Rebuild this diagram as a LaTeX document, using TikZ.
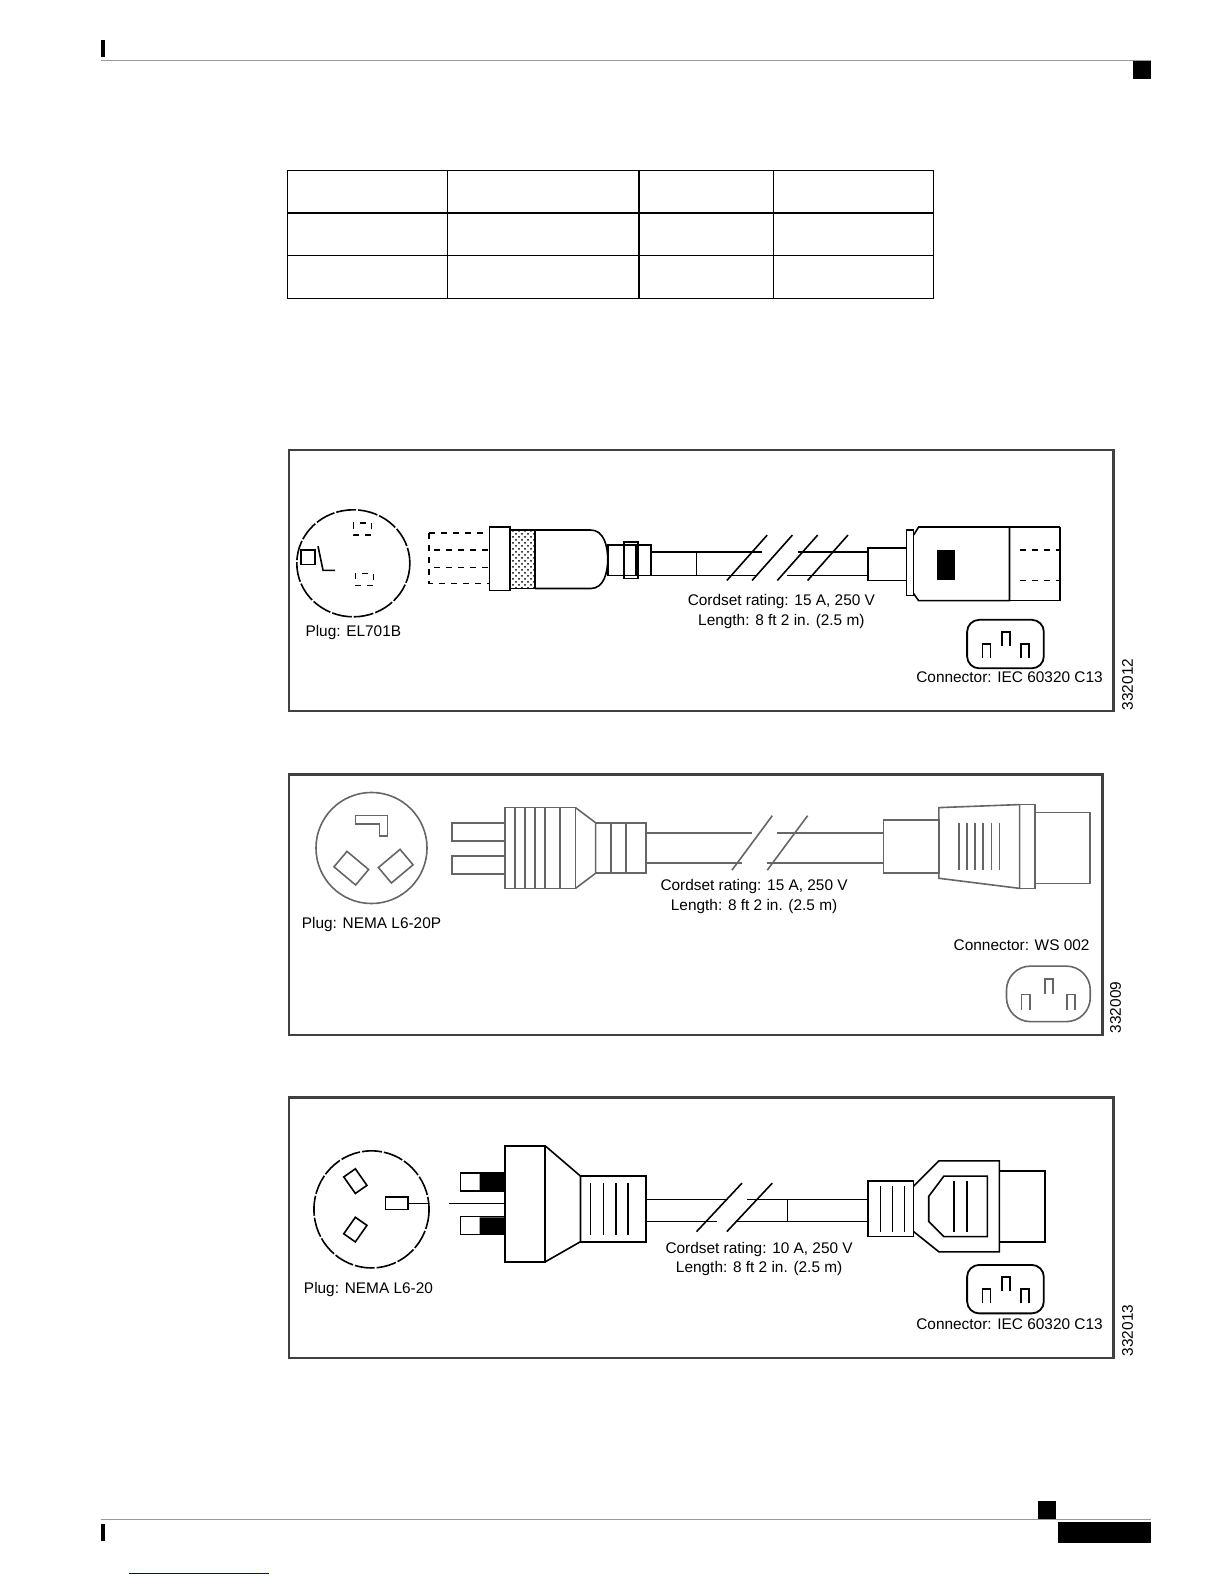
\documentclass[tikz,border=0pt]{standalone}
\usepackage{fontspec}
\setmainfont{Liberation Sans}
\usetikzlibrary{patterns}
\newcommand{\cthirteen}[3]{% x y w
  \draw[line width=0.9pt,rounded corners=6] (#1,#2) rectangle ++(#3,48);
  \draw[line width=0.9pt] (#1+0.2*#3,#2+38) -- ++(0,-14) -- ++(8,0) -- ++(0,14);
  \draw[line width=0.9pt] (#1+0.7*#3,#2+38) -- ++(0,-14) -- ++(8,0) -- ++(0,14);
  \draw[line width=0.9pt] (#1+0.45*#3,#2+26) -- ++(0,-14) -- ++(8,0) -- ++(0,14);}
\begin{document}
\begin{tikzpicture}[x=0.5pt,y=-0.5pt,
  lbl/.style={font=\fontsize{7.7}{9.5}\selectfont,inner sep=0pt,align=center},
  fig/.style={draw=black!75,line width=1.2pt},
  ln/.style={line width=0.8pt}]
\useasboundingbox (0,0) rectangle (1224,1584);
\begin{scope}[scale=1.0095]
% header / footer
\fill (100,40) rectangle (104,56);
\draw[black!40,line width=0.5pt] (100,60) -- (1140,60);
\fill (1122,60) rectangle (1140,78);
\draw[black!40,line width=0.5pt] (100,1505) -- (1140,1505);
\fill (100,1510) rectangle (104,1526);
\fill (1028,1487) rectangle (1046,1505);
\fill (1048,1508) rectangle (1140,1528);
\draw[blue!70!black,line width=0.5pt] (128,1559) -- (266,1559);
% table
\draw[line width=0.6pt] (285,169) rectangle (925,296);
\foreach \x in {443,633,766} \draw[line width=0.6pt] (\x,169) -- (\x,296);
\foreach \y in {211,253} \draw[line width=0.6pt] (285,\y) -- (925,\y);

% ===== Figure 1 =====
\draw[fig] (286,446) rectangle (1103,704);
\node[lbl,rotate=90] (id1) at (1117,678) {332012};
\draw[ln,dash pattern=on 10pt off 1pt] (350,558) circle [x radius=56,y radius=53];
\draw[ln] (298,545) rectangle (312,559); \draw[ln] (315,541) -- (320,565) -- (332,565);
\draw[ln,dashed] (350,518) rectangle (368,530);
\draw[ln,dashed] (352,568) rectangle (370,580);
\node[lbl,anchor=north] (p1) at (350,619) {Plug: EL701B};
\draw[ln,dashed] (425,528) rectangle (485,578); \draw[ln,dashed] (430,545) -- (485,545) (430,562) -- (485,562);
\draw[ln] (485,522) rectangle (505,585);
\draw[ln,pattern=crosshatch dots] (505,525) rectangle (530,583);
\draw[ln] (530,525) -- (585,525) to[out=0,in=90] (602,554) to[out=-90,in=0] (585,583) -- (530,583);
\draw[ln] (602,540) rectangle (630,570); \draw[ln] (618,537) rectangle (632,573);
\draw[ln] (632,540) rectangle (645,570);
\draw[ln] (645,547) -- (755,547) (645,570) -- (750,570);
\draw[ln] (690,547) -- (690,570);
\draw[ln] (720,575) -- (760,530) (745,575) -- (785,530) (770,575) -- (810,530) (800,575) -- (840,530);
\draw[ln] (790,547) -- (860,547) (780,570) -- (860,570);
\draw[ln] (860,543) rectangle (898,575);
\draw[ln] (898,525) rectangle (905,590);
\draw[ln] (905,530) -- (910,522) -- (1000,522) -- (1000,595) -- (910,595) -- (905,588);
\fill (928,545) rectangle (946,575);
\draw[ln] (1000,522) -- (1050,522) (1000,595) -- (1050,595) (1050,522) -- (1050,595);
\draw[ln,dashed] (1010,545) -- (1050,545) (1010,575) -- (1050,575);
\node[lbl] (r1) at (774,596) {Cordset rating: 15 A, 250 V};
\node[lbl] (l1) at (774,616) {Length: 8 ft 2 in. (2.5 m)};
\cthirteen{958}{614}{76}
\node[lbl] (c1) at (1000,671) {Connector: IEC 60320 C13};

% ===== Figure 2 =====
\draw[fig] (286,767) rectangle (1092,1025);
\node[lbl,rotate=90] (id2) at (1105,998) {332009};
\draw[black!60,ln] (368,840) circle [radius=55];
\draw[black!60,ln] (352,808) -- (384,808) -- (384,828) -- (376,828) -- (376,816) -- (352,816) -- cycle;
\draw[black!60,ln,rotate around={-40:(348,860)}] (334,850) rectangle (362,870);
\draw[black!60,ln,rotate around={40:(392,858)}] (378,848) rectangle (406,868);
\node[lbl,anchor=north] (p2) at (368,908) {Plug: NEMA L6-20P};
\draw[black!60,ln] (448,815) rectangle (500,833) (448,848) rectangle (500,866);
\draw[black!60,ln] (500,800) rectangle (570,880);
\foreach \x in {510,520,530,540,555} \draw[black!60,ln] (\x,800) -- (\x,880);
\draw[black!60,ln] (570,800) -- (590,815) -- (590,865) -- (570,880);
\draw[black!60,ln] (590,815) rectangle (640,865);
\foreach \x in {605,620} \draw[black!60,ln] (\x,815) -- (\x,865);
\draw[black!60,ln] (640,825) -- (745,825) (640,855) -- (735,855) (770,825) -- (875,825) (760,855) -- (875,855);
\draw[black!60,ln] (725,862) -- (765,808) (760,862) -- (800,808);
\draw[black!60,ln] (875,812) rectangle (930,865);
\draw[black!60,ln] (930,800) -- (1010,797) -- (1010,880) -- (930,870) -- cycle;
\foreach \x in {950,958,966,974,982,990} \draw[black!60,ln] (\x,815) -- (\x,862);
\draw[black!60,ln] (1010,797) rectangle (1025,880) (1025,805) -- (1080,805) -- (1080,875) -- (1025,875);
\node[lbl] (r2) at (747,878) {Cordset rating: 15 A, 250 V};
\node[lbl] (l2) at (747,898) {Length: 8 ft 2 in. (2.5 m)};
\node[lbl] (c2) at (1012,936) {Connector: WS 002};
\draw[black!60,ln,rounded corners=12] (997,957) rectangle (1080,1012);
\draw[black!60,ln] (1012,1000) -- (1012,985) -- (1020,985) -- (1020,1000) (1057,1000) -- (1057,985) -- (1065,985) -- (1065,1000) (1035,985) -- (1035,970) -- (1043,970) -- (1043,985);

% ===== Figure 3 =====
\draw[fig] (286,1087) rectangle (1103,1345);
\node[lbl,rotate=90] (id3) at (1117,1318) {332013};
\draw[ln,dash pattern=on 10pt off 1pt] (368,1198) circle [x radius=57,y radius=58];
\draw[ln,rotate around={-55:(352,1170)}] (342,1163) rectangle (362,1177);
\draw[ln,rotate around={55:(352,1218)}] (342,1211) rectangle (362,1225);
\draw[ln] (382,1186) rectangle (404,1198); \draw[ln] (404,1192) -- (425,1192);
\node[lbl,anchor=north] (p3) at (365,1270) {Plug: NEMA L6-20};
\draw[ln] (456,1162) rectangle (500,1180) (456,1205) rectangle (500,1223);
\fill (475,1163) rectangle (500,1180) (475,1206) rectangle (500,1223);
\draw[ln] (445,1192) -- (500,1192);
\draw[ln] (500,1135) rectangle (540,1250);
\draw[ln] (540,1135) -- (575,1165) -- (575,1230) -- (540,1250);
\draw[ln] (575,1165) rectangle (640,1230);
\foreach \x in {585,598,610,622} \draw[ln] (\x,1172) -- (\x,1223);
\draw[ln] (640,1188) -- (720,1188) (640,1210) -- (710,1210) (740,1188) -- (860,1188) (730,1210) -- (860,1210);
\draw[ln] (690,1220) -- (735,1172) (720,1220) -- (765,1172);
\draw[ln] (780,1188) -- (780,1210);
\draw[ln] (860,1170) rectangle (905,1225);
\foreach \x in {872,884,896} \draw[ln] (\x,1175) -- (\x,1220);
\draw[ln] (905,1175) -- (930,1150) -- (990,1150) -- (990,1240) -- (930,1240) -- (905,1220);
\draw[ln] (920,1185) -- (935,1165) -- (978,1165) -- (978,1225) -- (935,1225) -- (920,1210) -- cycle;
\foreach \x in {945,958} \draw[ln] (\x,1170) -- (\x,1220);
\draw[ln] (990,1160) -- (1035,1160) -- (1035,1230) -- (990,1230);
\node[lbl] (r3) at (752,1238) {Cordset rating: 10 A, 250 V};
\node[lbl] (l3) at (752,1257) {Length: 8 ft 2 in. (2.5 m)};
\cthirteen{958}{1253}{76}
\node[lbl] (c3) at (1000,1312) {Connector: IEC 60320 C13};
\end{scope}
\end{tikzpicture}
\end{document}
